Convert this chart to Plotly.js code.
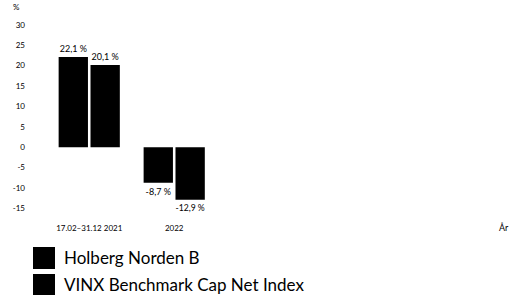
<!DOCTYPE html>
<html>
<head>
<meta charset="utf-8">
<script src="https://cdn.plot.ly/plotly-3.0.1.min.js"></script>
<style>
html,body{margin:0;padding:0;background:#fff;}
#chart{width:509px;height:298px;}
</style>
</head>
<body>
<div id="chart"></div>
<script>
const categories = ["17.02–31.12 2021", "2022"];
const seriesNames = ["Holberg Norden B", "VINX Benchmark Cap Net Index"];
const holberg = [22.1, -8.7];
const vinx = [20.1, -12.9];
const yTickVals = [-15, -10, -5, 0, 5, 10, 15, 20, 25, 30];
const yTickText = ["-15", "-10", "-5", "0", "5", "10", "15", "20", "25", "30"];

const FONT = "Lato, 'Noto Sans', sans-serif";

const traces = [
  {
    type: "bar", name: seriesNames[0], x: categories, y: holberg,
    marker: {color: "#000000"},
    texttemplate: "%{y:.1f} %", textposition: "outside",
    textfont: {size: 9, color: "#000", family: FONT},
    cliponaxis: false, showlegend: false, hoverinfo: "none"
  },
  {
    type: "bar", name: seriesNames[1], x: categories, y: vinx,
    marker: {color: "#000000"},
    texttemplate: "%{y:.1f} %", textposition: "outside",
    textfont: {size: 9, color: "#000", family: FONT},
    cliponaxis: false, showlegend: false, hoverinfo: "none"
  }
];

const layout = {
  width: 509, height: 298,
  margin: {l: 26, r: 12, t: 10, b: 79, pad: 0},
  paper_bgcolor: "#fff", plot_bgcolor: "#fff",
  separators: ", ",
  font: {family: FONT, color: "#000", size: 8},
  barmode: "group", bargap: 0.25, bargroupgap: 0.08,
  showlegend: false,
  xaxis: {
    type: "category", range: [-0.744, 4.798],
    showgrid: false, zeroline: false, showline: false, ticks: "",
    ticklabelstandoff: 3,
    tickfont: {size: 8, color: "#000", family: FONT}
  },
  yaxis: {
    range: [-17.6, 33.6], tickvals: yTickVals, ticktext: yTickText,
    showgrid: false, zeroline: false, showline: false, ticks: "",
    tickfont: {size: 8, color: "#000", family: FONT}
  },
  shapes: [
    {type: "rect", xref: "paper", yref: "paper", xsizemode: "pixel", ysizemode: "pixel",
     xanchor: 0, yanchor: 0, x0: 7, x1: 29, y0: -50, y1: -28,
     fillcolor: "#000", line: {width: 0}},
    {type: "rect", xref: "paper", yref: "paper", xsizemode: "pixel", ysizemode: "pixel",
     xanchor: 0, yanchor: 0, x0: 7, x1: 29, y0: -76, y1: -55,
     fillcolor: "#000", line: {width: 0}}
  ],
  annotations: [
    {xref: "paper", yref: "paper", x: 0.0764, y: -0.1866, xanchor: "left", yanchor: "middle",
     text: seriesNames[0], showarrow: false, font: {size: 17, color: "#000", family: FONT}},
    {xref: "paper", yref: "paper", x: 0.0764, y: -0.3134, xanchor: "left", yanchor: "middle",
     text: seriesNames[1], showarrow: false, font: {size: 17, color: "#000", family: FONT}},
    {xref: "paper", yref: "paper", x: 1, y: -0.0383, xanchor: "left", yanchor: "middle",
     text: "År", showarrow: false, font: {size: 9, color: "#000", family: FONT}},
    {xref: "paper", yref: "paper", x: -0.0212, y: 1.046, xanchor: "center", yanchor: "top",
     text: "%", showarrow: false, font: {size: 8, color: "#000", family: FONT}}
  ]
};

Plotly.newPlot("chart", traces, layout, {staticPlot: true, displayModeBar: false});
</script>
</body>
</html>
